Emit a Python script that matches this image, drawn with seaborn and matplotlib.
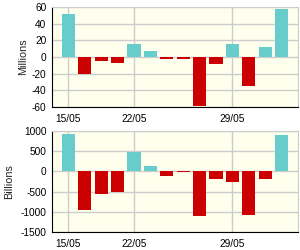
import numpy as np
import pandas as pd
import matplotlib
matplotlib.use('Agg')
import matplotlib.pyplot as plt
import seaborn as sns

# bar values, one per trading day
millions = [51, -20, -5, -7, 16, 7, -3, -2, -59, -9, 15, -35, 12.5, 57.5]
billions = [925, -950, -550, -500, 475, 125, -125, -25, -1100, -200, -250, -1075, -200, 900]
tick_labels = ["15/05", "", "", "", "22/05", "", "", "", "", "", "29/05", "", "", ""]

pos_color = "#66CCCC"
neg_color = "#CC0000"

sns.set_style("white")
plt.rcParams['font.family'] = ['Liberation Sans', 'DejaVu Sans']
plt.rcParams['axes.unicode_minus'] = False

fig = plt.figure(figsize=(3.0, 2.5), dpi=100)
ax1 = fig.add_axes([52/300, 1 - 107/250, 246/300, 100/250])
ax2 = fig.add_axes([52/300, 1 - 232/250, 246/300, 101/250])


def draw(ax, values, ylim, yticks, ylabel, label_x):
    df = pd.DataFrame({
        'day': np.arange(len(values)),
        'value': values,
        'sign': ['pos' if v >= 0 else 'neg' for v in values],
    })
    sns.barplot(data=df, x='day', y='value', hue='sign',
                palette={'pos': pos_color, 'neg': neg_color},
                dodge=False, legend=False, width=0.8, saturation=1,
                linewidth=0, edgecolor='none', ax=ax, zorder=3)
    ax.set_facecolor('#FFFFEE')
    ax.set_xlim(-1, len(values))
    ax.set_ylim(*ylim)
    ax.set_yticks(yticks)
    ax.set_xticks(np.arange(len(values)))
    ax.set_xticklabels(tick_labels)
    ax.grid(axis='y', color='#CCCCCC', linewidth=1, zorder=0)
    for i, lab in enumerate(tick_labels):
        if lab:
            ax.axvline(i, color='#CCCCCC', linewidth=1, zorder=0)
    ax.tick_params(axis='both', direction='out', length=3, width=0.8,
                   labelsize=7.3, pad=1, colors='black')
    ax.tick_params(axis='x', pad=2)
    for side in ['top', 'right']:
        ax.spines[side].set_color('#CCCCCC')
    for side in ['left', 'bottom']:
        ax.spines[side].set_color('black')
        ax.spines[side].set_linewidth(0.8)
    ax.set_xlabel('')
    ax.set_ylabel(ylabel, fontsize=7.8)
    ax.yaxis.set_label_coords(label_x, 0.5)


draw(ax1, millions, (-60, 60), np.arange(-60, 61, 20), 'Millions', (28 - 52) / 246)
draw(ax2, billions, (-1500, 1000), np.arange(-1500, 1001, 500), 'Billions', (14 - 52) / 246)

fig.savefig('out.png', dpi=100)
